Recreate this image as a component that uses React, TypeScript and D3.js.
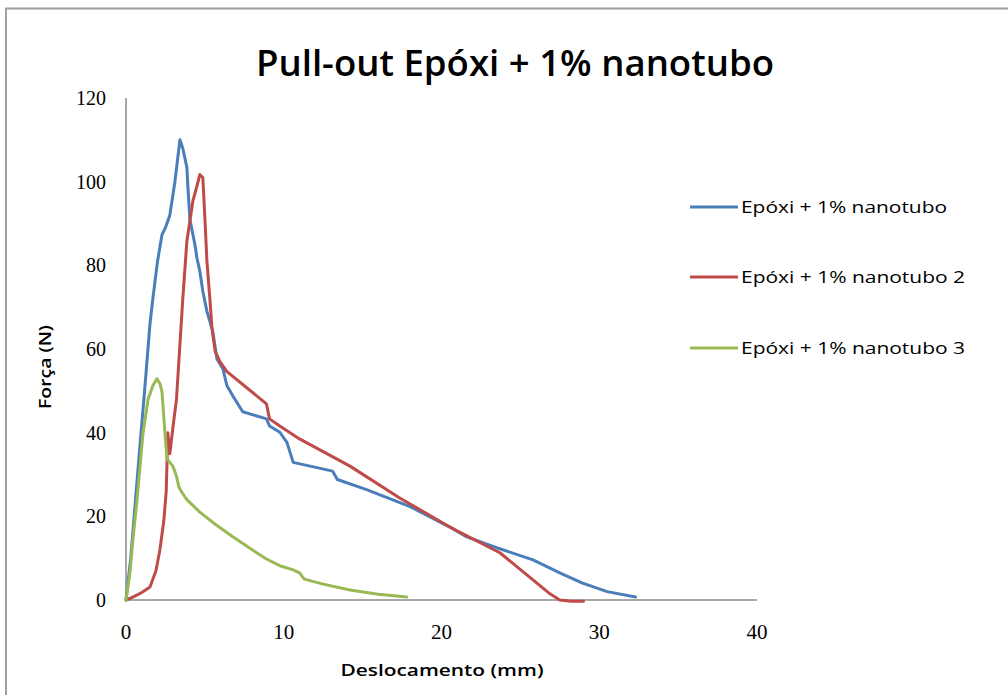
import React from "react";
import * as d3 from "d3";

const title = "Pull-out Epóxi + 1% nanotubo";
const xLabel = "Deslocamento (mm)";
const yLabel = "Força (N)";
const xTicks = [0, 10, 20, 30, 40];
const yTicks = [0, 20, 40, 60, 80, 100, 120];
const seriesNames = ["Epóxi + 1% nanotubo", "Epóxi + 1% nanotubo 2", "Epóxi + 1% nanotubo 3"];
const seriesColors = ["#4A7EBB", "#BE4B48", "#98B954"];

const blueX = [0, 0.3, 0.8, 1.2, 1.52, 1.7, 2.0, 2.28, 2.5, 2.78, 3.1, 3.42, 3.6, 3.86, 3.92, 4.05, 4.37, 4.5, 4.68, 4.87, 5.13, 5.5, 5.76, 6.14, 6.4, 6.77, 7.4, 8.9, 9.1, 9.75, 10.2, 10.4, 10.6, 13.1, 13.4, 15.25, 17.97, 20.5, 21.6, 23.5, 25.8, 27.5, 28.9, 30.5, 32.3];
const blueY = [0, 10, 33, 51, 66, 72, 81, 87.3, 89, 92, 100, 110, 108, 103.4, 99, 91, 84.9, 81.7, 78.6, 73.8, 69, 64.2, 57.7, 55.3, 51.2, 48.8, 45, 43.3, 41.6, 40.1, 37.7, 35.3, 32.9, 30.8, 28.8, 26.4, 22.4, 17.5, 15.1, 12.5, 9.6, 6.5, 4.1, 2, 0.7];

const redX = [0, 0.5, 1.0, 1.52, 1.9, 2.15, 2.4, 2.55, 2.65, 2.78, 3.0, 3.2, 3.6, 3.86, 4.24, 4.5, 4.68, 4.87, 5.0, 5.13, 5.3, 5.45, 5.65, 5.95, 6.4, 8.9, 9.1, 9.75, 11, 14.2, 17.3, 20.5, 23.7, 26.8, 27.5, 28.2, 29];
const redY = [0, 0.8, 1.8, 3.1, 7, 12, 19, 26, 40, 35, 42, 48, 72, 85.8, 95.4, 99, 101.7, 101, 91.3, 81, 72.8, 65, 59.5, 57, 54.6, 46.9, 43.3, 41.6, 38.5, 32, 24.5, 17.5, 11.3, 1.7, 0, -0.3, -0.3];

const greenX = [0, 0.25, 0.45, 0.7, 1.08, 1.4, 1.7, 1.96, 2.15, 2.28, 2.47, 2.6, 2.97, 3.2, 3.35, 3.55, 3.86, 4.68, 5.7, 6.77, 8.0, 8.9, 9.75, 10.6, 11.0, 11.3, 12.5, 14.2, 16, 17.8];
const greenY = [0, 6.5, 15, 24, 40, 48, 51.2, 52.9, 51.7, 49.8, 40, 33.7, 32, 29.6, 27, 25.7, 24, 21, 18, 15.1, 12, 9.8, 8.2, 7.2, 6.5, 5, 3.8, 2.4, 1.4, 0.7];

const seriesXs = [blueX, redX, greenX];
const seriesYs = [blueY, redY, greenY];

export default function App() {
  const W = 1008, H = 695;
  const x = d3.scaleLinear().domain([0, 40]).range([126, 757]);
  const y = d3.scaleLinear().domain([0, 120]).range([600, 98]);
  const line = d3.line<[number, number]>().x(d => x(d[0])).y(d => y(d[1]));
  const axisColor = "#8a8a8a";
  const serif = "'Liberation Serif', 'DejaVu Serif', serif";
  const sans = "'Open Sans', 'Noto Sans', sans-serif";
  const legendYs = [207, 277, 348];
  return (
    <svg width={W} height={H} style={{ position: "absolute", left: 0, top: 0, background: "#fff" }}>
      <rect x={0} y={0} width={W} height={H} fill="#fff" />
      <rect x={6} y={8.5} width={1010} height={700} fill="#fff" stroke="#a0a0a0" strokeWidth={2} />
      <text x={515} y={76} textAnchor="middle" fontFamily={sans} fontWeight={600} fontSize={36}
        textLength={518} lengthAdjust="spacingAndGlyphs" fill="#000">{title}</text>
      {/* axes */}
      <line x1={x(0)} x2={x(0)} y1={y(0)} y2={y(120)} stroke={axisColor} strokeWidth={1.5} />
      <line x1={x(0)} x2={x(40)} y1={y(0)} y2={y(0)} stroke={axisColor} strokeWidth={1.5} />
      {yTicks.map(t => (
        <text key={"y" + t} x={106} y={y(t) + 7} textAnchor="end" fontFamily={serif} fontSize={20} fill="#000">{t}</text>
      ))}
      {xTicks.map(t => (
        <text key={"x" + t} x={x(t)} y={639} textAnchor="middle" fontFamily={serif} fontSize={21} fill="#000">{t}</text>
      ))}
      <text x={442} y={676} textAnchor="middle" fontFamily={sans} fontWeight={600} fontSize={16}
        textLength={203} lengthAdjust="spacingAndGlyphs" fill="#000">{xLabel}</text>
      <text transform={`translate(51,367) rotate(-90)`} textAnchor="middle" fontFamily={sans} fontWeight={600} fontSize={16}
        textLength={84} lengthAdjust="spacingAndGlyphs" fill="#000">{yLabel}</text>
      {/* series */}
      {seriesXs.map((xs, i) => {
        const pts: [number, number][] = xs.map((v, j) => [v, seriesYs[i][j]]);
        return (
          <path key={"s" + i} d={line(pts) || ""} fill="none" stroke={seriesColors[i]} strokeWidth={3}
            strokeLinejoin="round" strokeLinecap="round" />
        );
      })}
      {/* legend */}
      {seriesNames.map((n, i) => (
        <g key={"l" + i}>
          <line x1={690} x2={738} y1={legendYs[i]} y2={legendYs[i]} stroke={seriesColors[i]} strokeWidth={3} />
          <text x={741} y={legendYs[i] + 6} fontFamily={sans} fontSize={16} fill="#000"
            textLength={i === 0 ? 206 : 224 } lengthAdjust="spacingAndGlyphs">{n}</text>
        </g>
      ))}
    </svg>
  );
}
